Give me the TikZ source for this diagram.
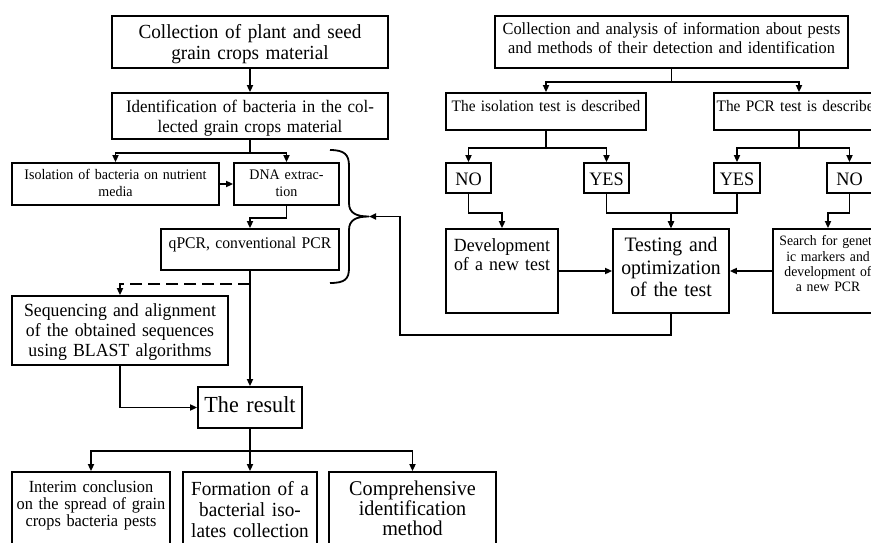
\documentclass[tikz,border=0pt]{standalone}
\usepackage{fontspec}
\setmainfont{Liberation Serif}[FakeStretch=0.96]
\usetikzlibrary{arrows.meta}
\newcommand{\fsz}[2]{\fontsize{#1}{#2}\selectfont}

\begin{document}
\begin{tikzpicture}[x=1pt,y=-1pt,
    box/.style={draw,line width=1.8pt,inner sep=0pt,align=center},
    link/.style={line width=1.8pt,-{Triangle[length=7pt,width=6pt]}},
    plain/.style={line width=1.8pt}]
  \useasboundingbox (0,0) rectangle (871,543);
  \clip (0,0) rectangle (871,543);
  % left branch: material and laboratory work
  \node[box,text width=276pt,text height=23pt,text depth=29pt,font=\fsz{20}{21}] (plant) at (250,42) {Collection of plant and seed\\grain crops material};
  \node[box,text width=276pt,text height=20pt,text depth=26pt,font=\fsz{17.6}{20}] (ident) at (250,116) {Identification of bacteria in the col-\\lected grain crops material};
  \node[box,text width=207pt,text height=16.5pt,text depth=25.5pt,font=\fsz{14.6}{16.5}] (iso) at (115.5,184) {Isolation of bacteria on nutrient\\media};
  \node[box,text width=105pt,text height=16.5pt,text depth=25.5pt,font=\fsz{14.6}{16.5}] (dna) at (286.5,184) {DNA extrac-\\tion};
  \node[box,text width=178pt,text height=19.7pt,text depth=21.3pt,font=\fsz{16.3}{18}] (qpcr) at (250,249.5) {qPCR, conventional PCR};
  \node[box,text width=216pt,text height=20.7pt,text depth=48.3pt,font=\fsz{18.5}{19.7}] (seq) at (120,330.5) {Sequencing and alignment\\of the obtained sequences\\using BLAST algorithms};
  \node[box,text width=104pt,text height=25.3pt,text depth=15.7pt,font=\fsz{23}{25}] (result) at (250,407.5) {The result};
  \node[box,text width=158pt,text height=20.3pt,text depth=72.7pt,font=\fsz{17}{17.2}] (interim) at (91,518.5) {Interim conclusion\\on the spread of grain\\crops bacteria pests};
  \node[box,text width=134pt,text height=23pt,text depth=70pt,font=\fsz{20}{21}] (formation) at (250,518.5) {Formation of a\\bacterial iso-\\lates collection};
  \node[box,text width=167pt,text height=23pt,text depth=70pt,font=\fsz{21}{20}] (method) at (412.5,518.5) {Comprehensive\\identification\\method};
  % right branch: information and tests
  \node[box,text width=353pt,text height=19pt,text depth=33pt,font=\fsz{17}{18.3}] (info) at (671.5,42) {Collection and analysis of information about pests\\and methods of their detection and identification};
  \node[box,text width=200pt,text height=18.7pt,text depth=18.3pt,font=\fsz{16}{18}] (isotest) at (546,111.5) {The isolation test is described};
  \node[box,text width=170pt,text height=18.7pt,text depth=18.3pt,font=\fsz{16}{18}] (pcrtest) at (799,111.5) {\mbox{The PCR test is described}};
  \node[box,text width=45pt,text height=22pt,text depth=8pt,font=\fsz{19}{20}] (no1) at (468.5,178) {NO};
  \node[box,text width=45pt,text height=22pt,text depth=8pt,font=\fsz{19}{20}] (yes1) at (606.5,178) {YES};
  \node[box,text width=46pt,text height=22pt,text depth=8pt,font=\fsz{19}{20}] (yes2) at (737,178) {YES};
  \node[box,text width=45pt,text height=22pt,text depth=8pt,font=\fsz{19}{20}] (no2) at (849.5,178) {NO};
  \node[box,text width=112pt,text height=22pt,text depth=62pt,font=\fsz{18.6}{19}] (dev) at (502,271) {Development\\of a new test};
  \node[box,text width=116pt,text height=22.7pt,text depth=61.3pt,font=\fsz{20.5}{22.5}] (test) at (671,271) {Testing and\\optimization\\of the test};
  \node[box,text width=110pt,text height=16.7pt,text depth=67.3pt,font=\fsz{14.3}{15.3}] (search) at (828,271) {Search for genet-\\ic markers and\\development of\\a new PCR};
  % brace and feedback
  \coordinate (braceTop) at (330,150);
  \coordinate (braceBot) at (330,283);
  \coordinate (tip) at (369,216.5);
  \coordinate (turn) at (400,335);
  \draw[plain] (braceTop) .. controls (345,150) and (349,155) .. (349,166) -- (349,203)
    .. controls (349,213) and (356,216.5) .. (tip)
    .. controls (356,216.5) and (349,220) .. (349,230) -- (349,268)
    .. controls (349,279) and (345,283) .. (braceBot);
  % connectors
  \draw[link] (plant) -- (ident);
  \draw[link] (ident.south) -- ++(0,13) -| (iso.north);
  \draw[link] (ident.south) -- ++(0,13) -| (dna.north);
  \draw[link] (iso) -- (dna);
  \draw[link] (dna.south) -- ++(0,12) -| (qpcr.north);
  \draw[link] (qpcr) -- (result);
  \coordinate (fork) at ([yshift=-13pt]qpcr.south);
  \draw[link,dash pattern=on 12pt off 6pt] (fork) -| (seq.north);
  \draw[link] (seq.south) |- (result.west);
  \draw[link] (result.south) -- ++(0,22) -| (interim.north);
  \draw[link] (result.south) -- ++(0,22) -| (method.north);
  \draw[link] (result) -- (formation);
  \draw[link] (info.south) -- ++(0,13) -| (isotest.north);
  \draw[link] (info.south) -- ++(0,13) -| (pcrtest.north);
  \draw[link] (isotest.south) -- ++(0,17) -| (no1.north);
  \draw[link] (isotest.south) -- ++(0,17) -| (yes1.north);
  \draw[link] (pcrtest.south) -- ++(0,17) -| (yes2.north);
  \draw[link] (pcrtest.south) -- ++(0,17) -| (no2.north);
  \draw[link] (no1.south) -- ++(0,19) -| (dev.north);
  \draw[link] (yes1.south) -- ++(0,19) -| (test.north);
  \draw[link] (yes2.south) -- ++(0,19) -| (test.north);
  \draw[link] (no2.south) -- ++(0,19) -| (search.north);
  \draw[link] (dev) -- (test);
  \draw[link] (search) -- (test);
  \draw[link] (test.south) |- (turn) |- (tip);
\end{tikzpicture}
\end{document}
